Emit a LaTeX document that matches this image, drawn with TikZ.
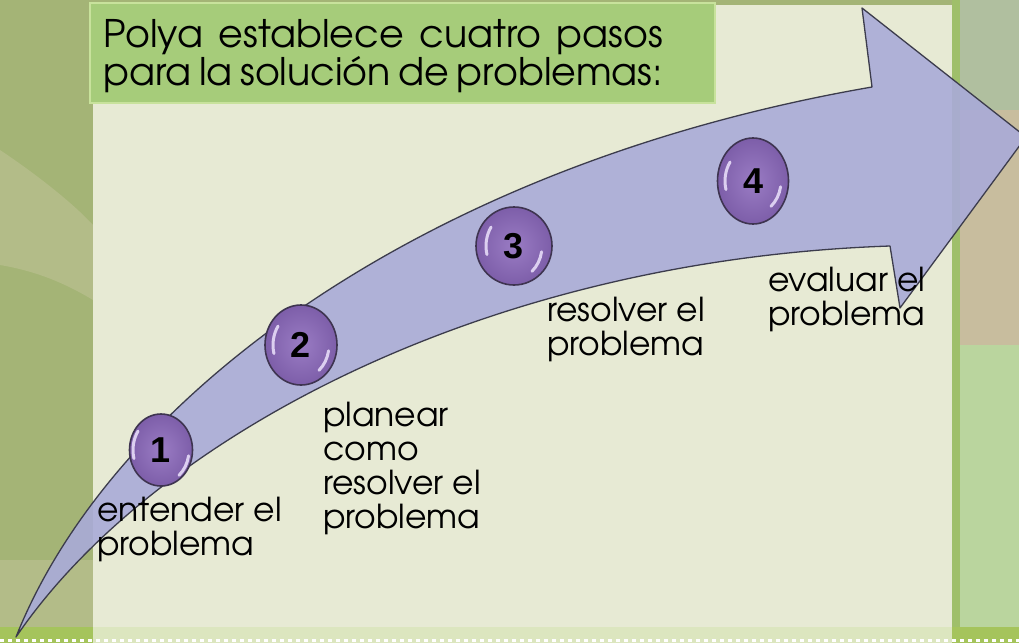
\documentclass[tikz,border=0pt]{standalone}
\usepackage{fontspec}
\usepackage{tikz}
\usetikzlibrary{shapes.geometric}
\newfontfamily\gothic{TeX Gyre Adventor}
\newfontfamily\digitfont{Liberation Sans}
\definecolor{bgolive}{HTML}{A4B476}
\definecolor{bglight}{HTML}{B3BC88}
\definecolor{bgrighttop}{HTML}{B0BF9F}
\definecolor{bgrightmid}{HTML}{C8BD9E}
\definecolor{bgrightlow}{HTML}{BAD59E}
\definecolor{bgstripe}{HTML}{9FBF6A}
\definecolor{bgbottom}{HTML}{A5C45C}
\definecolor{bgbottomlight}{HTML}{DCE6BF}
\definecolor{panelcream}{HTML}{E7EAD4}
\definecolor{titlegreen}{HTML}{A6CC7A}
\definecolor{titleedge}{HTML}{C8E29C}
\definecolor{arrowblue}{HTML}{A9ABD8}
\definecolor{arrowedge}{HTML}{3C3C4C}
\definecolor{ballin}{HTML}{9A7CC4}
\definecolor{ballout}{HTML}{7D5EA9}
\definecolor{balledge}{HTML}{3E3450}
\definecolor{ballhi}{HTML}{DCCFF0}
\tikzset{panel/.style={fill=panelcream}}
\tikzset{titlebox/.style={fill=titlegreen,draw=titleedge,line width=1.5pt}}
\tikzset{arrowbody/.style={fill=arrowblue,fill opacity=0.9,draw=arrowedge,line width=1.3pt,line join=round}}
\tikzset{stepball/.style={ellipse,draw=balledge,line width=1.6pt,inner color=ballin,outer color=ballout,inner sep=0pt,
    font=\digitfont\bfseries\fontsize{36}{36}\selectfont,
    path picture={
      \draw[ballhi,line width=3pt,line cap=round] ([shift={(145:28pt and 33pt)}]path picture bounding box.center)
        arc[start angle=145,end angle=195,x radius=28pt,y radius=33pt];
      \draw[ballhi,line width=3pt,line cap=round] ([shift={(-10:28pt and 33pt)}]path picture bounding box.center)
        arc[start angle=-10,end angle=-50,x radius=28pt,y radius=33pt];}}}
\tikzset{steptext/.style={anchor=base west,align=left,inner sep=0pt,font=\gothic\fontsize{33}{34}\selectfont}}
\begin{document}
\begin{tikzpicture}[x=1pt,y=-1pt]
  \useasboundingbox (0,0) rectangle (1019,643);
  % background
  \fill[bgolive] (0,0) rectangle (1019,643);
  \fill[bglight] (0,150) .. controls (30,170) and (70,200) .. (93,225) -- (93,300) .. controls (60,280) and (30,270) .. (0,265) -- cycle;
  \fill[bglight] (0,560) rectangle (93,627);
  \fill[bgrighttop] (960,0) rectangle (1019,110);
  \fill[bgrightmid] (960,110) rectangle (1019,345);
  \fill[bgrightlow] (960,345) rectangle (1019,627);
  \fill[bgstripe] (952,0) rectangle (960,627);
  \fill[panel] (93,5) rectangle (952,627);
  % bottom strip
  \fill[bgbottom] (0,627) rectangle (1019,643);
  \fill[bgbottomlight] (93,627) rectangle (952,643);
  \draw[white,line width=3pt,dash pattern=on 4pt off 4pt] (0,640) -- (1019,640);
  % title
  \fill[titlebox] (90,3) rectangle (715,103);
  \node[anchor=base west,inner sep=0pt,text width=560pt,align=justify,
        font=\gothic\fontsize{38}{38}\selectfont] (title) at (103,47)
        {Polya establece cuatro pasos\linebreak para la solución de problemas:};
  % the arrow
  \draw[arrowbody] (16,637) .. controls (110,400) and (420,165) .. (872,87) -- (862,8)
    -- (1026,137) -- (900,308) -- (890,246) .. controls (480,260) and (150,440) .. (16,637) -- cycle;
  % the steps (labels are placed at the baseline of their last line)
  \node[stepball,minimum width=63pt,minimum height=72pt] (ball1) at (161,450) {1};
  \node[stepball,minimum width=72pt,minimum height=80pt] (ball2) at (301,345) {2};
  \node[stepball,minimum width=76pt,minimum height=78pt] (ball3) at (514,246) {3};
  \node[stepball,minimum width=71pt,minimum height=86pt] (ball4) at (753,181) {4};
  \node[steptext] (lbl1) at (97,555) {entender el\\problema};
  \node[steptext] (lbl2) at (323,528) {planear\\como\\resolver el\\problema};
  \node[steptext] (lbl3) at (547,355) {resolver el\\problema};
  \node[steptext] (lbl4) at (768,325) {evaluar el\\problema};
\end{tikzpicture}
\end{document}
